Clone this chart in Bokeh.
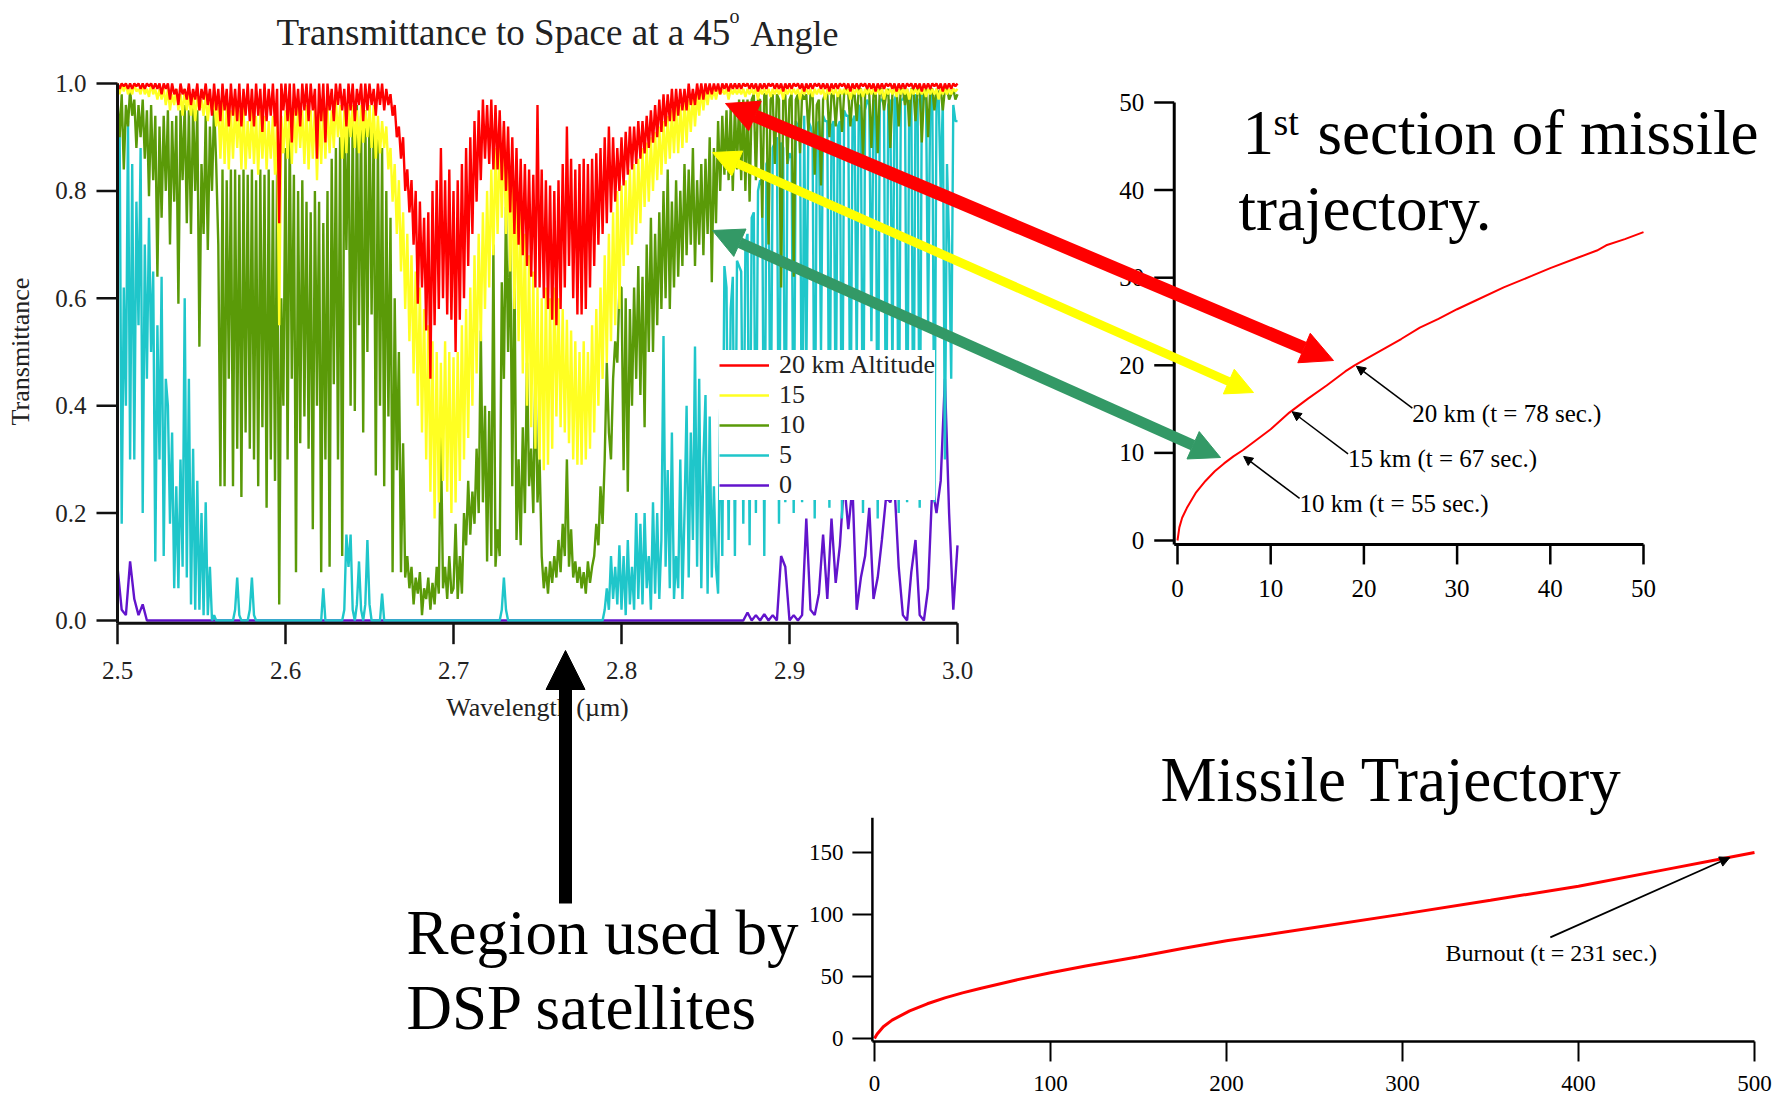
import numpy as np
from bokeh.plotting import figure
from bokeh.models import Range1d, Arrow, NormalHead, Legend, LegendItem
from bokeh.embed import file_html
from bokeh.resources import INLINE
from bokeh.core.properties import value

# ---------------- data: transmittance to space at 45 deg ----------------
wavelength = np.round(np.linspace(2.5, 3.0, 401), 5)      # grid for 20/15/10/5 km
wavelength_0km = np.round(np.linspace(2.5, 3.0, 201), 4)  # grid for 0 km

trans_20km = [
    1.0, 0.99, 1.0, 0.995, 1.0, 0.99, 1.0, 0.99, 1.0, 0.995, 1.0, 0.99, 1.0, 0.99, 1.0, 0.995, 1.0, 0.99, 1.0, 0.99,
    1.0, 0.98, 1.0, 0.99, 1.0, 0.97, 1.0, 0.98, 0.99, 0.96, 1.0, 0.98, 0.99, 0.97, 1.0, 0.96, 0.99, 0.97, 1.0, 0.95,
    0.99, 0.97, 1.0, 0.96, 0.99, 0.94, 1.0, 0.95, 0.99, 0.93, 1.0, 0.95, 0.99, 0.92, 1.0, 0.94, 0.99, 0.93, 1.0, 0.92,
    0.99, 0.94, 1.0, 0.93, 0.99, 0.92, 1.0, 0.94, 0.99, 0.91, 1.0, 0.93, 0.99, 0.94, 1.0, 0.92, 0.99, 0.74, 1.0, 0.95,
    1.0, 0.93, 1.0, 0.89, 1.0, 0.94, 0.99, 0.92, 1.0, 0.95, 1.0, 0.93, 1.0, 0.95, 0.99, 0.86, 1.0, 0.93, 1.0, 0.89,
    1.0, 0.95, 0.99, 0.93, 1.0, 0.96, 1.0, 0.95, 0.99, 0.92, 1.0, 0.95, 1.0, 0.93, 0.99, 0.96, 1.0, 0.93, 1.0, 0.95,
    1.0, 0.96, 0.99, 0.94, 1.0, 0.96, 1.0, 0.95, 0.99, 0.96, 0.98, 0.94, 0.96, 0.90, 0.92, 0.86, 0.90, 0.80, 0.84, 0.76,
    0.82, 0.70, 0.80, 0.59, 0.78, 0.62, 0.75, 0.54, 0.76, 0.45, 0.80, 0.55, 0.82, 0.58, 0.88, 0.60, 0.82, 0.57, 0.84, 0.56,
    0.80, 0.50, 0.82, 0.56, 0.85, 0.60, 0.88, 0.66, 0.90, 0.72, 0.93, 0.78, 0.95, 0.82, 0.97, 0.86, 0.96, 0.85, 0.97, 0.84,
    0.96, 0.84, 0.95, 0.82, 0.93, 0.80, 0.92, 0.76, 0.90, 0.72, 0.88, 0.70, 0.86, 0.68, 0.85, 0.66, 0.84, 0.64, 0.83, 0.62,
    0.96, 0.62, 0.84, 0.60, 0.82, 0.58, 0.81, 0.56, 0.80, 0.55, 0.82, 0.58, 0.85, 0.62, 0.92, 0.66, 0.86, 0.60, 0.84, 0.57,
    0.85, 0.57, 0.86, 0.58, 0.85, 0.62, 0.86, 0.66, 0.87, 0.70, 0.88, 0.72, 0.90, 0.74, 0.92, 0.76, 0.90, 0.78, 0.88, 0.80,
    0.90, 0.81, 0.91, 0.83, 0.92, 0.84, 0.92, 0.85, 0.93, 0.86, 0.93, 0.87, 0.94, 0.88, 0.95, 0.89, 0.96, 0.90, 0.97, 0.91,
    0.98, 0.92, 0.98, 0.93, 0.99, 0.93, 0.99, 0.94, 0.99, 0.95, 0.99, 0.95, 1.0, 0.96, 0.99, 0.96, 1.0, 0.97, 1.0, 0.97,
    1.0, 0.98, 1.0, 0.98, 1.0, 0.985, 1.0, 0.98, 1.0, 0.99, 1.0, 0.985, 1.0, 0.99, 1.0, 0.99, 1.0, 0.99, 1.0, 0.995,
    1.0, 0.99, 1.0, 0.99, 1.0, 0.985, 1.0, 0.99, 1.0, 0.99, 1.0, 0.995, 1.0, 0.99, 1.0, 0.99, 1.0, 0.985, 1.0, 0.99,
    1.0, 0.99, 1.0, 0.995, 1.0, 0.99, 1.0, 0.985, 1.0, 0.99, 1.0, 0.99, 1.0, 0.995, 1.0, 0.99, 1.0, 0.99, 1.0, 0.985,
    1.0, 0.99, 1.0, 0.99, 1.0, 0.995, 1.0, 0.99, 1.0, 0.985, 1.0, 0.99, 1.0, 0.99, 1.0, 0.995, 1.0, 0.99, 1.0, 0.99,
    1.0, 0.985, 1.0, 0.99, 1.0, 0.99, 1.0, 0.995, 1.0, 0.99, 1.0, 0.985, 1.0, 0.99, 1.0, 0.99, 1.0, 0.995, 1.0, 0.99,
    1.0, 0.99, 1.0, 0.985, 1.0, 0.99, 1.0, 0.99, 1.0, 0.995, 1.0, 0.99, 1.0, 0.985, 1.0, 0.99, 1.0, 0.99, 1.0, 0.995,
    1.0,
]

trans_15km = [
    1.0, 0.98, 1.0, 0.985, 1.0, 0.98, 0.99, 0.98, 1.0, 0.985, 0.99, 0.98, 1.0, 0.98, 0.99, 0.975, 1.0, 0.98, 0.99, 0.97,
    0.99, 0.97, 0.99, 0.96, 0.99, 0.95, 0.98, 0.96, 0.99, 0.95, 0.98, 0.94, 0.99, 0.95, 0.98, 0.94, 0.98, 0.93, 0.98, 0.95,
    0.97, 0.94, 0.98, 0.93, 0.97, 0.95, 0.97, 0.92, 0.96, 0.86, 0.97, 0.85, 0.96, 0.84, 0.95, 0.86, 0.96, 0.88, 0.95, 0.84,
    0.96, 0.84, 0.93, 0.86, 0.95, 0.85, 0.94, 0.83, 0.95, 0.86, 0.94, 0.84, 0.93, 0.86, 0.94, 0.83, 0.93, 0.55, 0.94, 0.87,
    0.95, 0.86, 0.96, 0.85, 0.95, 0.87, 0.96, 0.88, 0.95, 0.85, 0.96, 0.84, 0.95, 0.86, 0.96, 0.82, 0.95, 0.85, 0.96, 0.86,
    0.96, 0.87, 0.95, 0.88, 0.97, 0.90, 0.96, 0.86, 0.95, 0.87, 0.96, 0.90, 0.96, 0.88, 0.95, 0.87, 0.96, 0.89, 0.95, 0.90,
    0.96, 0.88, 0.96, 0.86, 0.94, 0.87, 0.93, 0.88, 0.92, 0.84, 0.88, 0.78, 0.85, 0.72, 0.82, 0.65, 0.76, 0.58, 0.72, 0.52,
    0.68, 0.46, 0.65, 0.40, 0.62, 0.35, 0.58, 0.30, 0.55, 0.24, 0.52, 0.19, 0.50, 0.22, 0.48, 0.26, 0.52, 0.24, 0.50, 0.20,
    0.49, 0.22, 0.50, 0.26, 0.55, 0.30, 0.58, 0.34, 0.62, 0.40, 0.68, 0.46, 0.72, 0.52, 0.76, 0.58, 0.80, 0.62, 0.84, 0.68,
    0.88, 0.72, 0.90, 0.75, 0.92, 0.72, 0.88, 0.65, 0.84, 0.58, 0.80, 0.52, 0.76, 0.46, 0.72, 0.40, 0.68, 0.36, 0.65, 0.32,
    0.62, 0.30, 0.60, 0.28, 0.62, 0.29, 0.60, 0.32, 0.62, 0.38, 0.60, 0.36, 0.58, 0.35, 0.56, 0.33, 0.54, 0.30, 0.52, 0.29,
    0.50, 0.29, 0.52, 0.30, 0.50, 0.32, 0.55, 0.35, 0.58, 0.40, 0.62, 0.45, 0.68, 0.48, 0.72, 0.52, 0.76, 0.55, 0.80, 0.58,
    0.81, 0.66, 0.82, 0.68, 0.84, 0.70, 0.85, 0.72, 0.86, 0.74, 0.88, 0.77, 0.89, 0.78, 0.90, 0.80, 0.91, 0.82, 0.92, 0.83,
    0.93, 0.85, 0.94, 0.86, 0.95, 0.87, 0.96, 0.87, 0.96, 0.88, 0.97, 0.89, 0.97, 0.91, 0.98, 0.92, 0.98, 0.94, 0.99, 0.95,
    0.99, 0.96, 0.99, 0.97, 0.99, 0.97, 0.99, 0.98, 0.99, 0.98, 0.99, 0.97, 0.99, 0.98, 0.99, 0.98, 0.99, 0.98, 0.99, 0.975,
    0.99, 0.98, 0.99, 0.98, 0.99, 0.97, 0.99, 0.98, 0.99, 0.98, 0.99, 0.975, 0.99, 0.98, 0.99, 0.98, 0.99, 0.97, 0.99, 0.98,
    0.99, 0.98, 0.99, 0.98, 0.99, 0.97, 0.99, 0.98, 0.99, 0.98, 0.99, 0.975, 0.99, 0.98, 0.99, 0.98, 0.99, 0.97, 0.99, 0.98,
    0.99, 0.98, 0.99, 0.975, 0.99, 0.98, 0.99, 0.98, 0.99, 0.97, 0.99, 0.98, 0.99, 0.98, 0.99, 0.975, 0.99, 0.98, 0.99, 0.98,
    0.99, 0.98, 0.99, 0.98, 0.99, 0.97, 0.99, 0.98, 0.99, 0.98, 0.99, 0.975, 0.99, 0.98, 0.99, 0.98, 0.99, 0.97, 0.99, 0.98,
    0.99, 0.98, 0.99, 0.98, 0.99, 0.975, 0.99, 0.98, 0.99, 0.98, 0.99, 0.97, 0.99, 0.98, 0.99, 0.98, 0.99, 0.98, 0.99, 0.985,
    0.99,
]

trans_10km = [
    0.97, 0.90, 0.98, 0.84, 0.96, 0.92, 0.99, 0.94, 0.97, 0.88, 0.96, 0.90, 0.97, 0.86, 0.95, 0.79, 0.96, 0.82, 0.94, 0.64,
    0.92, 0.75, 0.94, 0.80, 0.95, 0.70, 0.93, 0.78, 0.94, 0.59, 0.95, 0.82, 0.96, 0.74, 0.95, 0.72, 0.96, 0.80, 0.95, 0.51,
    0.85, 0.72, 0.94, 0.69, 0.92, 0.80, 0.96, 0.85, 0.70, 0.25, 0.84, 0.25, 0.82, 0.45, 0.84, 0.25, 0.84, 0.32, 0.83, 0.23,
    0.84, 0.35, 0.83, 0.32, 0.84, 0.30, 0.82, 0.25, 0.84, 0.36, 0.83, 0.21, 0.84, 0.30, 0.82, 0.26, 0.84, 0.03, 0.60, 0.40,
    0.88, 0.30, 0.92, 0.45, 0.83, 0.09, 0.80, 0.33, 0.82, 0.38, 0.78, 0.32, 0.76, 0.17, 0.80, 0.40, 0.78, 0.09, 0.74, 0.30,
    0.80, 0.10, 0.86, 0.44, 0.88, 0.30, 0.90, 0.12, 0.94, 0.69, 0.96, 0.40, 0.95, 0.39, 0.96, 0.55, 0.94, 0.35, 0.95, 0.50,
    0.96, 0.57, 0.93, 0.27, 0.90, 0.40, 0.88, 0.25, 0.80, 0.38, 0.75, 0.09, 0.60, 0.28, 0.50, 0.09, 0.33, 0.08, 0.12, 0.06,
    0.10, 0.03, 0.08, 0.05, 0.09, 0.01, 0.06, 0.04, 0.08, 0.02, 0.07, 0.03, 0.10, 0.05, 0.35, 0.06, 0.10, 0.04, 0.12, 0.05,
    0.06, 0.18, 0.04, 0.12, 0.05, 0.20, 0.14, 0.26, 0.16, 0.24, 0.18, 0.32, 0.20, 0.54, 0.22, 0.40, 0.11, 0.39, 0.12, 0.70,
    0.10, 0.17, 0.12, 0.63, 0.45, 0.77, 0.50, 0.72, 0.25, 0.67, 0.15, 0.30, 0.14, 0.36, 0.20, 0.48, 0.25, 0.32, 0.20, 0.46,
    0.22, 0.30, 0.12, 0.06, 0.10, 0.05, 0.11, 0.07, 0.12, 0.08, 0.15, 0.09, 0.18, 0.12, 0.30, 0.10, 0.17, 0.08, 0.11, 0.07,
    0.10, 0.06, 0.09, 0.05, 0.11, 0.07, 0.10, 0.12, 0.18, 0.14, 0.25, 0.18, 0.30, 0.48, 0.35, 0.30, 0.45, 0.52, 0.48, 0.62,
    0.62, 0.28, 0.60, 0.24, 0.58, 0.40, 0.62, 0.45, 0.66, 0.42, 0.64, 0.36, 0.70, 0.50, 0.75, 0.50, 0.72, 0.55, 0.76, 0.58,
    0.80, 0.60, 0.84, 0.58, 0.78, 0.62, 0.82, 0.64, 0.80, 0.66, 0.85, 0.68, 0.84, 0.70, 0.88, 0.66, 0.82, 0.70, 0.85, 0.68,
    0.86, 0.72, 0.90, 0.63, 0.88, 0.74, 0.93, 0.80, 0.94, 0.83, 0.95, 0.82, 0.96, 0.80, 0.96, 0.84, 0.97, 0.82, 0.97, 0.80,
    0.97, 0.78, 0.97, 0.98, 0.82, 0.97, 0.97, 0.75, 0.98, 0.98, 0.70, 0.97, 0.98, 0.85, 0.98, 0.97, 0.62, 0.97, 0.98, 0.85,
    0.97, 0.98, 0.64, 0.97, 0.98, 0.87, 0.98, 0.97, 0.98, 0.91, 0.98, 0.98, 0.83, 0.96, 0.97, 0.81, 0.97, 0.98, 0.98, 0.90,
    0.98, 0.98, 0.92, 0.98, 0.98, 0.91, 0.98, 0.99, 0.98, 0.92, 0.98, 0.98, 0.93, 0.99, 0.99, 0.86, 0.98, 0.99, 0.98, 0.88,
    0.98, 0.99, 0.87, 0.99, 0.99, 0.95, 0.98, 0.99, 0.88, 0.98, 0.99, 0.99, 0.92, 0.99, 0.99, 0.96, 0.99, 0.92, 0.99, 0.99,
    0.93, 0.99, 0.99, 0.89, 0.98, 0.99, 0.90, 0.99, 0.99, 0.95, 0.99, 0.98, 0.99, 0.95, 0.99, 0.99, 0.97, 0.98, 0.99, 0.97,
    0.98,
]

trans_5km = [
    0.88, 0.93, 0.18, 0.62, 0.40, 0.93, 0.30, 0.85, 0.30, 0.78, 0.55, 0.88, 0.20, 0.70, 0.45, 0.75, 0.50, 0.65, 0.11, 0.55,
    0.30, 0.64, 0.12, 0.45, 0.40, 0.18, 0.35, 0.06, 0.25, 0.06, 0.30, 0.10, 0.60, 0.08, 0.45, 0.03, 0.32, 0.02, 0.26, 0.02,
    0.20, 0.01, 0.22, 0.01, 0.10, 0.0, 0.01, 0.0, 0.0, 0.0, 0.0, 0.0, 0.0, 0.0, 0.0, 0.0, 0.02, 0.08, 0.01, 0.0,
    0.0, 0.0, 0.0, 0.02, 0.08, 0.01, 0.0, 0.0, 0.0, 0.0, 0.0, 0.0, 0.0, 0.0, 0.0, 0.0, 0.0, 0.0, 0.0, 0.0,
    0.0, 0.0, 0.0, 0.0, 0.0, 0.0, 0.0, 0.0, 0.0, 0.0, 0.0, 0.0, 0.0, 0.0, 0.0, 0.0, 0.0, 0.0, 0.06, 0.0,
    0.0, 0.0, 0.0, 0.0, 0.0, 0.0, 0.0, 0.0, 0.02, 0.16, 0.10, 0.16, 0.02, 0.0, 0.03, 0.11, 0.02, 0.0, 0.03, 0.15,
    0.03, 0.0, 0.0, 0.0, 0.0, 0.0, 0.05, 0.0, 0.0, 0.0, 0.0, 0.0, 0.0, 0.0, 0.0, 0.0, 0.0, 0.0, 0.0, 0.0,
    0.0, 0.0, 0.0, 0.0, 0.0, 0.0, 0.0, 0.0, 0.0, 0.0, 0.0, 0.0, 0.0, 0.0, 0.0, 0.0, 0.0, 0.0, 0.0, 0.0,
    0.0, 0.0, 0.0, 0.0, 0.0, 0.0, 0.0, 0.0, 0.0, 0.0, 0.0, 0.0, 0.0, 0.0, 0.0, 0.0, 0.0, 0.0, 0.0, 0.0,
    0.0, 0.0, 0.0, 0.02, 0.08, 0.02, 0.0, 0.0, 0.0, 0.0, 0.0, 0.0, 0.0, 0.0, 0.0, 0.0, 0.0, 0.0, 0.0, 0.0,
    0.0, 0.0, 0.0, 0.0, 0.0, 0.0, 0.0, 0.0, 0.0, 0.0, 0.0, 0.0, 0.0, 0.0, 0.0, 0.0, 0.0, 0.0, 0.0, 0.0,
    0.0, 0.0, 0.0, 0.0, 0.0, 0.0, 0.0, 0.0, 0.0, 0.0, 0.0, 0.0, 0.02, 0.06, 0.02, 0.12, 0.04, 0.10, 0.03, 0.14,
    0.02, 0.12, 0.01, 0.15, 0.03, 0.10, 0.02, 0.20, 0.04, 0.18, 0.03, 0.20, 0.06, 0.12, 0.02, 0.22, 0.05, 0.20, 0.04, 0.15,
    0.53, 0.10, 0.28, 0.06, 0.35, 0.04, 0.12, 0.06, 0.30, 0.04, 0.20, 0.40, 0.08, 0.35, 0.15, 0.51, 0.10, 0.45, 0.06, 0.30,
    0.42, 0.05, 0.38, 0.08, 0.25, 0.10, 0.05, 0.40, 0.12, 0.66, 0.62, 0.15, 0.58, 0.64, 0.12, 0.67, 0.66, 0.65, 0.18, 0.70,
    0.72, 0.14, 0.75, 0.76, 0.20, 0.80, 0.82, 0.81, 0.12, 0.85, 0.86, 0.25, 0.88, 0.89, 0.90, 0.18, 0.89, 0.88, 0.22, 0.85,
    0.87, 0.86, 0.20, 0.93, 0.92, 0.93, 0.22, 0.94, 0.45, 0.93, 0.92, 0.90, 0.19, 0.92, 0.93, 0.50, 0.94, 0.93, 0.93, 0.21,
    0.92, 0.93, 0.35, 0.92, 0.93, 0.19, 0.95, 0.94, 0.94, 0.26, 0.93, 0.94, 0.48, 0.96, 0.95, 0.20, 0.95, 0.97, 0.96, 0.52,
    0.97, 0.96, 0.19, 0.97, 0.97, 0.96, 0.24, 0.96, 0.97, 0.45, 0.97, 0.98, 0.20, 0.97, 0.97, 0.98, 0.22, 0.97, 0.98, 0.25,
    0.98, 0.97, 0.21, 0.98, 0.97, 0.98, 0.55, 0.97, 0.98, 0.22, 0.97, 0.98, 0.80, 0.97, 0.30, 0.85, 0.70, 0.45, 0.96, 0.93,
    0.93,
]

trans_0km = [
    0.10, 0.02, 0.01, 0.11, 0.04, 0.01, 0.03, 0.0, 0.0, 0.0, 0.0, 0.0, 0.0, 0.0, 0.0, 0.0, 0.0, 0.0, 0.0, 0.0,
    0.0, 0.0, 0.0, 0.0, 0.0, 0.0, 0.0, 0.0, 0.0, 0.0, 0.0, 0.0, 0.0, 0.0, 0.0, 0.0, 0.0, 0.0, 0.0, 0.0, 0.0,
    0.0, 0.0, 0.0, 0.0, 0.0, 0.0, 0.0, 0.0, 0.0, 0.0, 0.0, 0.0, 0.0, 0.0, 0.0, 0.0, 0.0, 0.0, 0.0, 0.0,
    0.0, 0.0, 0.0, 0.0, 0.0, 0.0, 0.0, 0.0, 0.0, 0.0, 0.0, 0.0, 0.0, 0.0, 0.0, 0.0, 0.0, 0.0, 0.0, 0.0,
    0.0, 0.0, 0.0, 0.0, 0.0, 0.0, 0.0, 0.0, 0.0, 0.0, 0.0, 0.0, 0.0, 0.0, 0.0, 0.0, 0.0, 0.0, 0.0, 0.0,
    0.0, 0.0, 0.0, 0.0, 0.0, 0.0, 0.0, 0.0, 0.0, 0.0, 0.0, 0.0, 0.0, 0.0, 0.0, 0.0, 0.0, 0.0, 0.0, 0.0,
    0.0, 0.0, 0.0, 0.0, 0.0, 0.0, 0.0, 0.0, 0.0, 0.0, 0.0, 0.0, 0.0, 0.0, 0.0, 0.0, 0.0, 0.0, 0.0, 0.0,
    0.0, 0.0, 0.0, 0.0, 0.0, 0.0, 0.0, 0.0, 0.0, 0.015, 0.0, 0.01, 0.0, 0.012, 0.0, 0.01, 0.0, 0.12, 0.10, 0.0,
    0.01, 0.0, 0.01, 0.19, 0.02, 0.01, 0.05, 0.16, 0.04, 0.19, 0.07, 0.14, 0.26, 0.17, 0.25, 0.02, 0.08, 0.12, 0.21, 0.04,
    0.08, 0.15, 0.23, 0.22, 0.25, 0.10, 0.01, 0.0, 0.09, 0.15, 0.01, 0.0, 0.06, 0.25, 0.20, 0.26, 0.45, 0.20, 0.02, 0.14,
]

for _s in (trans_20km, trans_15km, trans_10km, trans_5km):
    assert len(_s) == len(wavelength), len(_s)
assert len(trans_0km) == len(wavelength_0km), len(trans_0km)

legend_labels = ["20 km Altitude", "15", "10", "5", "0"]
trans_xticks = [2.5, 2.6, 2.7, 2.8, 2.9, 3.0]
trans_yticks = [0.0, 0.2, 0.4, 0.6, 0.8, 1.0]

# ---------------- data: first section of missile trajectory ----------------
sec1_downrange = [0, 0.2, 0.5, 1, 2, 3, 4, 5, 6, 7, 8, 10, 12, 14, 16, 18, 19, 20,
                  22, 24, 26, 28, 30, 32, 35, 38, 40, 43, 45, 46, 48, 50]
sec1_altitude = [0, 1.5, 2.6, 3.7, 5.5, 6.8, 7.9, 8.8, 9.6, 10.3, 11.1, 12.7, 14.6, 16.2, 17.7, 19.3, 20.0, 20.6,
                 21.8, 23.0, 24.3, 25.3, 26.4, 27.4, 28.9, 30.2, 31.1, 32.3, 33.1, 33.7, 34.4, 35.2]
sec1_ticks = [0, 10, 20, 30, 40, 50]
sec1_marks_x = [19.0, 12.1, 6.9]
sec1_marks_y = [20.0, 14.8, 9.7]
sec1_marks_text = ["20 km (t = 78 sec.)", "15 km (t = 67 sec.)", "10 km (t = 55 sec.)"]

# ---------------- data: full missile trajectory ----------------
traj_downrange = [0, 1, 2, 5, 10, 20, 30, 40, 50, 60, 80, 100, 120, 150, 175, 200, 250, 300, 350, 400, 450, 480, 500]
traj_altitude = [0, 2.5, 4.5, 9.5, 14.8, 22.3, 28.0, 32.8, 36.8, 40.3, 47.0, 53.0, 58.5, 66.0, 72.5, 78.8,
                 89.5, 100.3, 111.5, 122.8, 136.4, 144.5, 150.0]
traj_xticks = [0, 100, 200, 300, 400, 500]
traj_yticks = [0, 50, 100, 150]
burnout_x, burnout_y = 486, 146
burnout_text = "Burnout (t = 231 sec.)"

# ---------------- canvas ----------------
W, H = 1774, 1094
FONT_NAME = "Liberation Serif"
FONT = value(FONT_NAME)
p = figure(width=W, height=H, x_range=Range1d(0, W), y_range=Range1d(H, 0),
           x_axis_type=None, y_axis_type=None, toolbar_location=None,
           output_backend="svg", min_border=0, outline_line_color=None)
p.background_fill_color = "white"
p.border_fill_color = "white"


def add_chart(name, x0_val, x0_px, kx, y0_val, y0_px, ky):
    p.extra_x_ranges[name + "_x"] = Range1d(x0_val - x0_px / kx, x0_val + (W - x0_px) / kx)
    p.extra_y_ranges[name + "_y"] = Range1d(y0_val - (H - y0_px) / ky, y0_val + y0_px / ky)
    return dict(x_range_name=name + "_x", y_range_name=name + "_y")


T = add_chart("trans", 2.5, 117, 1680.0, 0.0, 620, 537.0)
S = add_chart("sec1", 0.0, 1177, 9.32, 0.0, 540, 8.76)
B = add_chart("traj", 0.0, 874, 1.76, 0.0, 1038, 1.24)


def draw_axes(rn, kx, ky, xspine, yspine, xmax, ymax, xticks, yticks, xlabels, ylabels,
              tick_len, lbl_size, xlab_off, ylab_off, xlab_baseline="middle",
              color="black", lbl_color="black", lw=3):
    p.segment(x0=[xspine, xspine], y0=[yspine, yspine], x1=[xspine, xmax], y1=[ymax, yspine],
              line_color=color, line_width=lw, **rn)
    p.segment(x0=[xspine - tick_len / kx] * len(yticks), y0=yticks,
              x1=[xspine] * len(yticks), y1=yticks, line_color=color, line_width=lw - 0.5, **rn)
    p.segment(x0=xticks, y0=[yspine] * len(xticks), x1=xticks,
              y1=[yspine - tick_len / ky] * len(xticks), line_color=color, line_width=lw - 0.5, **rn)
    p.text(x=[xspine] * len(yticks), y=yticks, text=ylabels, x_offset=ylab_off,
           text_font=FONT, text_font_size=f"{lbl_size}px", text_color=lbl_color,
           text_align="right", text_baseline="middle", **rn)
    p.text(x=xticks, y=[0] * len(xticks), text=xlabels, y_offset=xlab_off,
           text_font=FONT, text_font_size=f"{lbl_size}px", text_color=lbl_color,
           text_align="center", text_baseline=xlab_baseline, **rn)


def label(x, y, s, size, align="left", color="black", angle=0.0):
    # y is the vertical middle of the text line
    p.text(x=[x], y=[y], text=[s], text_font=FONT, text_font_size=f"{size}px",
           text_color=color, text_align=align, text_baseline="middle", angle=angle)


# ---------------- transmittance chart ----------------
colors = {"0": "#6214CC", "5": "#1FC6CA", "10": "#5A9A08", "15": "#FFFF22", "20": "#FF0000"}
series = {"20": trans_20km, "15": trans_15km, "10": trans_10km, "5": trans_5km, "0": trans_0km}
renderers = {}
for key in ["0", "5", "10", "15", "20"]:
    xs = wavelength_0km if key == "0" else wavelength
    renderers[key] = p.line(xs, series[key], line_color=colors[key], line_width=2.4, **T)

draw_axes(T, 1680.0, 537.0, 2.5, -0.005, 3.0, 1.0, trans_xticks, trans_yticks,
          [f"{v:.1f}" for v in trans_xticks], [f"{v:.1f}" for v in trans_yticks],
          tick_len=21, lbl_size=25, xlab_off=50, ylab_off=-31, color="#111", lbl_color="#222", lw=3)

legend_keys = ["20", "15", "10", "5", "0"]
legend = Legend(items=[LegendItem(label=lab, renderers=[renderers[k]])
                       for lab, k in zip(legend_labels, legend_keys)],
                location=(719, H - 500), padding=2, margin=0, spacing=0,
                glyph_width=50, glyph_height=30, label_height=30, label_standoff=10,
                label_text_font=FONT_NAME, label_text_font_size="26px", label_text_color="#222",
                border_line_color=None, background_fill_color="white", background_fill_alpha=1.0)
p.add_layout(legend)

label(276, 32, "Transmittance to Space at a 45", 37, color="#222")
label(729, 15, "o", 20, color="#222")
label(750, 33, "Angle", 36, color="#222")
label(537, 707, "Wavelength (\u00b5m)", 26, align="center", color="#222")
label(20, 351, "Transmittance", 26, align="center", color="#222", angle=np.pi / 2)

# ---------------- first section chart ----------------
p.line(sec1_downrange, sec1_altitude, line_color="#FF0000", line_width=2, **S)
draw_axes(S, 9.32, 8.76, -0.35, -0.45, 50, 50, sec1_ticks, sec1_ticks,
          [str(v) for v in sec1_ticks], [str(v) for v in sec1_ticks],
          tick_len=20, lbl_size=25, xlab_off=48, ylab_off=-30, lw=3)
for mx, my, mt in zip(sec1_marks_x, sec1_marks_y, sec1_marks_text):
    tx, ty = mx + 6.2, my - 4.9
    p.add_layout(Arrow(end=NormalHead(size=9, fill_color="black", line_color="black"),
                       x_start=tx, y_start=ty, x_end=mx + 0.2, y_end=my - 0.1,
                       line_color="black", line_width=1.5, **S))
    p.text(x=[tx], y=[ty], text=[mt], y_offset=5, text_font=FONT, text_font_size="25px",
           text_color="black", text_align="left", text_baseline="middle", **S)

label(1242, 132, "1", 63)
label(1273, 121, "st", 38)
label(1317, 132, "section of missile", 63)
label(1238, 208, "trajectory.", 63)

# ---------------- full trajectory chart ----------------
p.line(traj_downrange, traj_altitude, line_color="#FF0000", line_width=3, **B)
draw_axes(B, 1.76, 1.24, -1.2, -2.4, 500, 178, traj_xticks, traj_yticks,
          [str(v) for v in traj_xticks], [str(v) for v in traj_yticks],
          tick_len=20, lbl_size=23, xlab_off=37, ylab_off=-29, xlab_baseline="top", lw=2.5)
p.add_layout(Arrow(end=NormalHead(size=10, fill_color="black", line_color="black"),
                   x_start=384, y_start=81.5, x_end=burnout_x, y_end=burnout_y,
                   line_color="black", line_width=1.8, **B))
label(1445, 952, burnout_text, 24)
label(1160, 779, "Missile Trajectory", 63)

# ---------------- connecting arrows & notes ----------------
for (xs, ys, xe, ye, c, lw, hs) in [(725, 103, 1333, 360, "#FF0000", 13, 32),
                                    (712, 152, 1253, 392, "#FFFF00", 9, 27),
                                    (712, 230, 1220, 457, "#339966", 11, 30)]:
    p.add_layout(Arrow(start=NormalHead(size=hs, fill_color=c, line_color=c),
                       end=NormalHead(size=hs, fill_color=c, line_color=c),
                       x_start=xs, y_start=ys, x_end=xe, y_end=ye, line_color=c, line_width=lw))

p.add_layout(Arrow(end=NormalHead(size=39, fill_color="black", line_color="black"),
                   x_start=565, y_start=903, x_end=565, y_end=650,
                   line_color="black", line_width=13))
label(406, 932, "Region used by", 63)
label(406, 1007, "DSP satellites", 63)

open("out.html", "w").write(file_html(p, INLINE))
